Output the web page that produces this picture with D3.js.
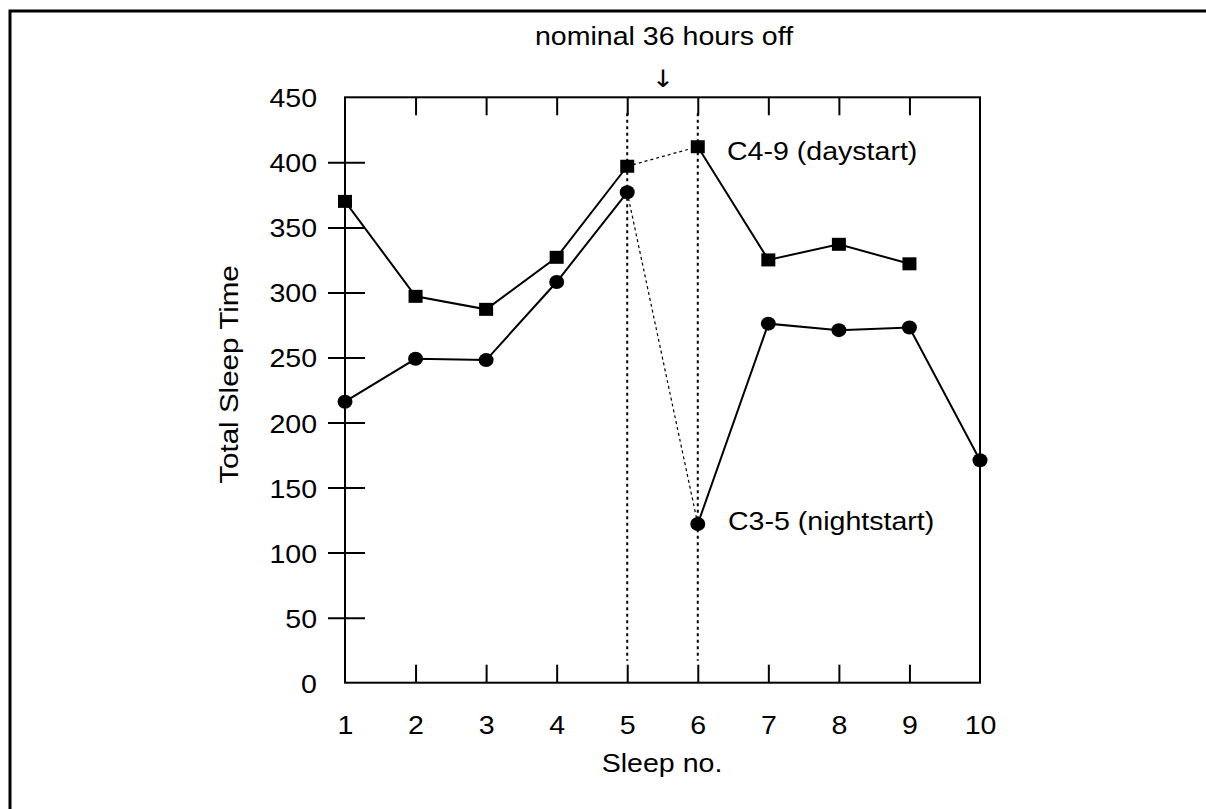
<!DOCTYPE html>
<html>
<head>
<meta charset="utf-8">
<script src="https://cdn.jsdelivr.net/npm/d3@7"></script>
<style>
    html, body { margin: 0; padding: 0; background: #fff; overflow: hidden; }
    svg { display: block; }
</style>
</head>
<body>
<div id="viz"></div>
<script>
// sleep numbers and total sleep time (minutes) for the two crews
const sleepNo = [1, 2, 3, 4, 5, 6, 7, 8, 9, 10];
const dayStart = [370, 297, 287, 327, 397, 412, 325, 337, 322];          // C4-9
const nightStart = [216, 249, 248, 308, 377, 122, 276, 271, 273, 171];   // C3-5
const offBreak = [5, 6];   // the 36 hours off sit between these two sleeps
const yTicks = [0, 50, 100, 150, 200, 250, 300, 350, 400, 450];

const width = 1206;
const height = 809;
const fontSize = 25.5;
const stretch = 1.12;   // the original lettering is a little wider than Arial

const svg = d3.select("#viz")
    .append("svg")
    .attr("width", width)
    .attr("height", height);

// outer frame, only its top and left edges are in the picture
svg.append("path")
    .attr("d", `M10,${height} V11 H${width}`)
    .attr("fill", "none")
    .attr("stroke", "#000")
    .attr("stroke-width", 3);

const margin = {top: 97.3, left: 345};
const innerWidth = 980 - margin.left;
const innerHeight = 682.7 - margin.top;

const g = svg.append("g")
    .attr("transform", `translate(${margin.left}, ${margin.top})`);

const xScale = d3.scaleLinear()
    .domain([1, 10])
    .range([0, innerWidth]);

const yScale = d3.scaleLinear()
    .domain([0, 450])
    .range([innerHeight, 0]);

const setFont = sel => sel
    .style("font-size", fontSize + "px")
    .style("font-family", "'Liberation Sans', Arial, sans-serif")
    .attr("fill", "#000");

// plot box
g.append("rect")
    .attr("width", innerWidth)
    .attr("height", innerHeight)
    .attr("fill", "none")
    .attr("stroke", "#000")
    .attr("stroke-width", 2);

// y axis, ticks cross the axis line
const yAxisG = g.append("g")
    .call(d3.axisLeft(yScale).tickValues(yTicks).tickSize(17).tickPadding(0));
yAxisG.select(".domain").remove();
yAxisG.selectAll(".tick line")
    .attr("x1", 20)
    .attr("stroke-width", 2)
    .attr("display", d => (d === 0 || d === 450) ? "none" : null);
yAxisG.selectAll(".tick text")
    .call(setFont)
    .attr("x", -28 / stretch)
    .attr("y", 9.5)
    .attr("dy", 0)
    .attr("transform", `scale(${stretch},1)`);

// x axis, ticks point inside
const xAxisG = g.append("g")
    .attr("transform", `translate(0, ${innerHeight})`)
    .call(d3.axisBottom(xScale).tickValues(sleepNo).tickSize(-18).tickFormat(d3.format("d")));
xAxisG.select(".domain").remove();
xAxisG.selectAll(".tick line")
    .attr("stroke-width", 2)
    .attr("display", d => (d === 1 || d === 10) ? "none" : null);
xAxisG.selectAll(".tick text")
    .call(setFont)
    .attr("y", 51.3)
    .attr("dy", 0)
    .attr("transform", `scale(${stretch},1)`);

// ticks along the top edge
const topAxisG = g.append("g")
    .call(d3.axisTop(xScale).tickValues(sleepNo.slice(1, 9)).tickSize(-18));
topAxisG.select(".domain").remove();
topAxisG.selectAll(".tick text").remove();
topAxisG.selectAll(".tick line").attr("stroke-width", 2);

// dotted verticals either side of the break
g.selectAll(".break-line").data(offBreak)
    .enter().append("line")
        .attr("class", "break-line")
        .attr("x1", d => xScale(d))
        .attr("x2", d => xScale(d))
        .attr("y1", 16)
        .attr("y2", innerHeight - 22)
        .attr("stroke", "#000")
        .attr("stroke-width", 2)
        .attr("stroke-dasharray", "3,3.5");

// series
const series = [
    {name: "C4-9 (daystart)", values: dayStart, shape: "square"},
    {name: "C3-5 (nightstart)", values: nightStart, shape: "circle"}
];

const line = d3.line()
    .x(d => xScale(d.x))
    .y(d => yScale(d.y));

series.forEach(s => {
    const pts = s.values.map((v, i) => ({x: sleepNo[i], y: v}));
    const before = pts.filter(p => p.x <= offBreak[0]);
    const after = pts.filter(p => p.x >= offBreak[1]);
    const bridge = pts.filter(p => p.x === offBreak[0] || p.x === offBreak[1]);

    [before, after].forEach(seg => {
        g.append("path")
            .attr("d", line(seg))
            .attr("fill", "none")
            .attr("stroke", "#000")
            .attr("stroke-width", 2);
    });
    g.append("path")
        .attr("d", line(bridge))
        .attr("fill", "none")
        .attr("stroke", "#000")
        .attr("stroke-width", 1.2)
        .attr("stroke-dasharray", "3,3");

    if (s.shape === "square") {
        g.selectAll(null).data(pts)
            .enter().append("rect")
                .attr("x", d => xScale(d.x) - 7)
                .attr("y", d => yScale(d.y) - 6.5)
                .attr("width", 14)
                .attr("height", 13)
                .attr("fill", "#000");
    } else {
        g.selectAll(null).data(pts)
            .enter().append("ellipse")
                .attr("cx", d => xScale(d.x))
                .attr("cy", d => yScale(d.y))
                .attr("rx", 7.5)
                .attr("ry", 7)
                .attr("fill", "#000");
    }
});

// labels
const addText = (x, y, txt, anchor, rotate) => svg.append("text")
    .call(setFont)
    .attr("text-anchor", anchor)
    .attr("transform", `translate(${x}, ${y})${rotate ? " rotate(-90)" : ""} scale(${stretch},1)`)
    .text(txt);

addText(727, 160, series[0].name, "start");
addText(728, 530, series[1].name, "start");
addText(664, 45, "nominal 36 hours off", "middle");
addText(663, 87, "\u2193", "middle")
    .style("font-family", "'DejaVu Sans', sans-serif")
    .style("font-size", "24px");
addText(662, 772, "Sleep no.", "middle");
addText(237.5, 374, "Total Sleep Time", "middle", true)
    .attr("transform", `translate(237.5, 374.5) rotate(-90) scale(1.16,1)`);
</script>
</body>
</html>
